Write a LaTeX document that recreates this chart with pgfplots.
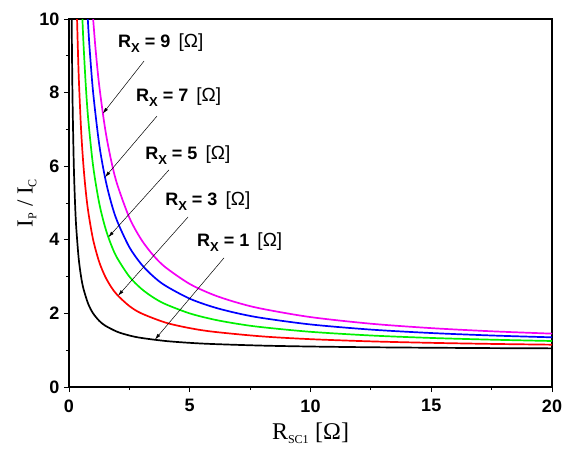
\documentclass[border=0pt]{standalone}
\usepackage{pgfplots}
\pgfplotsset{compat=1.18}
\usepackage{fontspec}
\setmainfont{Liberation Sans}
\newfontfamily\serif{Liberation Serif}
\usetikzlibrary{arrows.meta}

\begin{document}
\begin{tikzpicture}
\begin{axis}[
scale only axis,
width=483pt, height=368pt,
xmin=0, xmax=20, ymin=0, ymax=10,
xtick={0,5,...,20}, ytick={0,2,...,10},
minor x tick num=1, minor y tick num=1,
xtick pos=bottom, ytick pos=left,
tick align=outside,
major tick length=5pt, minor tick length=3pt,
every tick/.style={black, line width=0.9pt},
axis line style={line width=1.1pt},
tick label style={font=\fontsize{18}{20}\selectfont\bfseries},
/pgf/number format/assume math mode=true,
xticklabel style={yshift=-4pt},
yticklabel style={xshift=-1pt},
xlabel={\serif\fontsize{24}{26}\selectfont R\textsubscript{\fontsize{12}{13}\selectfont SC1} [Ω]},
ylabel={\serif\fontsize{23}{25}\selectfont I\textsubscript{\fontsize{12}{13}\selectfont P} / I\textsubscript{\fontsize{12}{13}\selectfont C}},
xlabel style={yshift=-4pt},
ylabel style={yshift=-4pt},
every axis plot/.append style={line width=1.7pt, smooth},
clip=true,
]
% R_X = 1
\addplot[black] coordinates {
(0.111,10.0) (0.125,9.0) (0.15,7.667) (0.2,6.0) (0.25,5.0) (0.3,4.333) (0.4,3.5)
(0.5,3.0) (0.6,2.667) (0.8,2.25) (1,2.0) (1.25,1.8) (1.5,1.667) (2,1.5) (2.5,1.4)
(3,1.333) (4,1.25) (5,1.2) (6,1.167) (8,1.125) (10,1.1) (12.5,1.08) (15,1.067)
(17.5,1.057) (20,1.05)};
% R_X = 3
\addplot[red] coordinates {
(0.333,10.0) (0.4,8.5) (0.5,7.0) (0.6,6.0) (0.7,5.286) (0.8,4.75) (1,4.0) (1.25,3.4)
(1.5,3.0) (1.75,2.714) (2,2.5) (2.5,2.2) (3,2.0) (4,1.75) (5,1.6) (6,1.5) (8,1.375)
(10,1.3) (12.5,1.24) (15,1.2) (17.5,1.171) (20,1.15)};
% R_X = 5
\addplot[color={rgb,255:red,0;green,240;blue,0}] coordinates {
(0.556,10.0) (0.6,9.333) (0.7,8.143) (0.8,7.25) (1,6.0) (1.25,5.0) (1.5,4.333)
(1.75,3.857) (2,3.5) (2.5,3.0) (3,2.667) (3.5,2.429) (4,2.25) (5,2.0) (6,1.833)
(7,1.714) (8,1.625) (10,1.5) (12.5,1.4) (15,1.333) (17.5,1.286) (20,1.25)};
% R_X = 7
\addplot[blue] coordinates {
(0.778,10.0) (0.85,9.235) (1,8.0) (1.25,6.6) (1.5,5.667) (1.75,5.0) (2,4.5)
(2.5,3.8) (3,3.333) (3.5,3.0) (4,2.75) (5,2.4) (6,2.167) (7,2.0) (8,1.875)
(10,1.7) (12.5,1.56) (15,1.467) (17.5,1.4) (20,1.35)};
% R_X = 9
\addplot[color={rgb,255:red,245;green,0;blue,245}] coordinates {
(1.0,10.0) (1.1,9.182) (1.25,8.2) (1.5,7.0) (1.75,6.143) (2,5.5) (2.5,4.6)
(3,4.0) (3.5,3.571) (4,3.25) (5,2.8) (6,2.5) (7,2.286) (8,2.125) (10,1.9)
(12.5,1.72) (15,1.6) (17.5,1.514) (20,1.45)};

\tikzset{lab/.style={anchor=west, font=\fontsize{18}{20}\selectfont\bfseries, inner sep=0pt},
         arr/.style={-{Latex[length=6pt,width=3.5pt]}, line width=0.5pt}}
\newcommand{\rx}[1]{R\raisebox{-0.55ex}{\fontsize{13}{14}\selectfont X} = #1\hspace{0.45em}{\mdseries\fontsize{19}{20}\selectfont[Ω]}}
\node[lab] at (axis cs:2.03,9.35) {\rx{9}};
\node[lab] at (axis cs:2.77,7.88) {\rx{7}};
\node[lab] at (axis cs:3.15,6.30) {\rx{5}};
\node[lab] at (axis cs:3.98,5.05) {\rx{3}};
\node[lab] at (axis cs:5.30,3.94) {\rx{1}};
\draw[arr] (axis cs:3.11,8.86) -- (axis cs:1.40,7.43);
\draw[arr] (axis cs:3.64,7.36) -- (axis cs:1.49,5.70);
\draw[arr] (axis cs:4.14,5.90) -- (axis cs:1.63,4.07);
\draw[arr] (axis cs:4.93,4.62) -- (axis cs:2.03,2.48);
\draw[arr] (axis cs:6.42,3.51) -- (axis cs:3.56,1.29);
\end{axis}
\path (current axis.south west) ++(-69pt,-61pt) coordinate (bbA);
\path (current axis.north east) ++(14pt,19pt) coordinate (bbB);
\path (bbA) rectangle (bbB);
\end{tikzpicture}
\end{document}
